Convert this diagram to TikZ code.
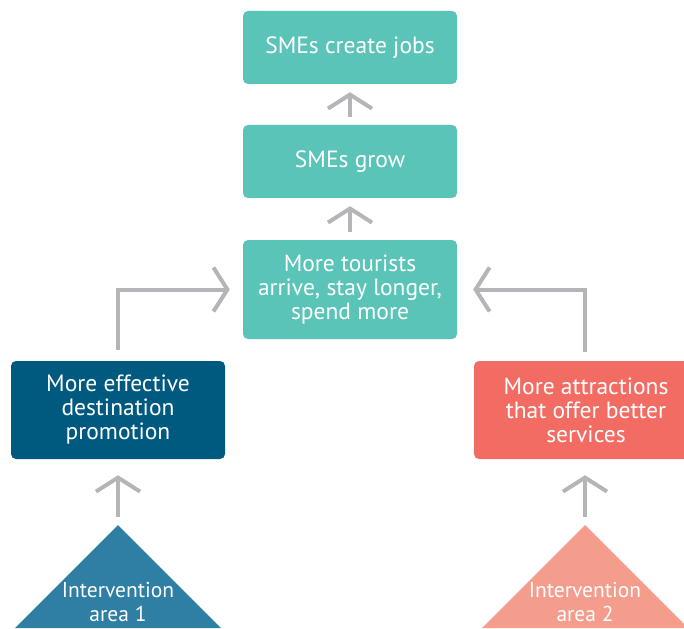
\documentclass[tikz,border=0pt]{standalone}
\usepackage{fontspec}
\setmainfont{PT Sans}
\usetikzlibrary{arrows.meta,calc}
\definecolor{teal1}{HTML}{5BC4B9}
\definecolor{navy1}{HTML}{005A7F}
\definecolor{coral1}{HTML}{F26C63}
\definecolor{tri1}{HTML}{2E7FA3}
\definecolor{tri2}{HTML}{F59D8D}
\definecolor{arrgray}{HTML}{B3B5B8}
\tikzset{
  box/.style={rounded corners=5pt, text=white, align=center, inner sep=0pt,
    font=\fontsize{23.5}{24}\selectfont},
  tritext/.style={text=white, align=center, inner sep=0pt,
    font=\fontsize{21.5}{24}\selectfont},
  flow/.style={draw=arrgray, line width=4pt,
    -{Straight Barb[length=14pt,width=44pt,line width=4pt]}},
}
\begin{document}
\begin{tikzpicture}[x=1pt,y=-1pt]
\useasboundingbox (0,0) rectangle (684,628);
\begin{scope}
\clip (0,0) rectangle (684,628);
% boxes
\node[box, fill=teal1, minimum width=214pt, minimum height=73pt] (jobs) at (350,47.5) {SMEs create jobs};
\node[box, fill=teal1, minimum width=214pt, minimum height=73pt] (grow) at (350,161.5) {SMEs grow};
\node[box, fill=teal1, minimum width=214pt, minimum height=99pt] (tour) at (350,289.5) {More tourists\\arrive, stay longer,\\spend more};
\node[box, fill=navy1, minimum width=214pt, minimum height=98pt] (promo) at (118,410) {More effective\\destination\\promotion};
\node[box, fill=coral1, minimum width=224pt, minimum height=98pt] (attr) at (586,410) {More attractions\\that offer better\\services};
% triangles
\fill[tri1] (118,525) -- (221,628) -- (15,628) -- cycle;
\fill[tri2] (585,525) -- (688,628) -- (482,628) -- cycle;
\coordinate (apex1) at (118,525);
\coordinate (apex2) at (585,525);
\node[tritext] (iv1) at (118,602) {Intervention\\area 1};
\node[tritext] (iv2) at (585,602) {Intervention\\area 2};
% arrows
\draw[flow, shorten <=8pt, shorten >=8pt] (grow.north) -- (jobs.south);
\draw[flow, shorten <=8pt, shorten >=8pt] (tour.north) -- (grow.south);
\draw[flow, shorten <=11pt, shorten >=13pt] (promo.north) |- (tour.west);
\draw[flow, shorten <=9pt, shorten >=16pt] (apex2 |- attr.north) |- (tour.east);
\draw[flow, shorten <=8pt, shorten >=16pt] (apex1) -- (promo.south);
\draw[flow, shorten <=8pt, shorten >=16pt] (apex2) -- (apex2 |- attr.south);
\end{scope}
\end{tikzpicture}
\end{document}
